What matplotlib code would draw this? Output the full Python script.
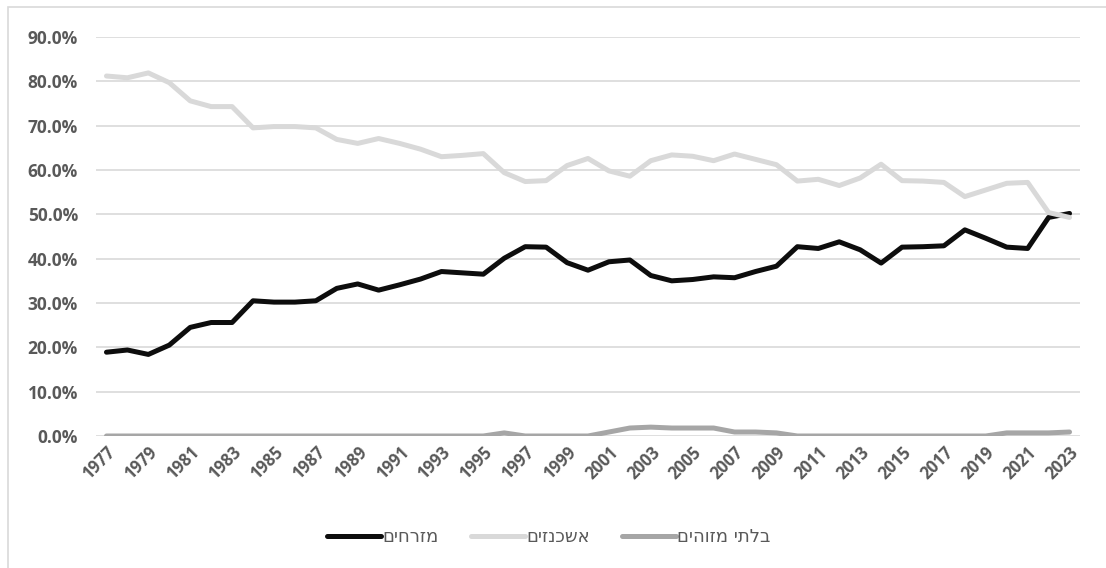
#!/usr/bin/env python3
"""
Share of Mizrahim / Ashkenazim / unidentified, 1977-2023
"""

import numpy as np
import matplotlib
matplotlib.use('Agg')
import matplotlib.pyplot as plt
from matplotlib.patches import Rectangle

years = list(range(1977, 2024))

mizrahim = [18.9, 19.4, 18.4, 20.5, 24.5, 25.6, 25.6, 30.5, 30.2, 30.2,
            30.5, 33.3, 34.3, 32.9, 34.1, 35.4, 37.1, 36.8, 36.5, 40.1,
            42.7, 42.6, 39.1, 37.4, 39.3, 39.7, 36.2, 35.0, 35.3, 35.9,
            35.7, 37.1, 38.3, 42.7, 42.3, 43.8, 42.0, 39.0, 42.6, 42.7,
            42.9, 46.5, 44.6, 42.6, 42.3, 49.3, 50.2]

ashkenazim = [81.2, 80.8, 81.9, 79.7, 75.6, 74.3, 74.3, 69.5, 69.8, 69.8,
              69.5, 66.9, 66.0, 67.1, 66.0, 64.7, 63.0, 63.3, 63.7, 59.4,
              57.4, 57.6, 61.0, 62.6, 59.8, 58.6, 62.1, 63.4, 63.1, 62.1,
              63.6, 62.4, 61.2, 57.5, 57.9, 56.5, 58.2, 61.3, 57.6, 57.5,
              57.2, 54.0, 55.5, 57.0, 57.2, 50.4, 49.3]

unidentified = [0, 0, 0, 0, 0, 0, 0, 0, 0, 0,
                0, 0, 0, 0, 0, 0, 0, 0, 0, 0.7,
                0, 0, 0, 0, 0.9, 1.8, 2.0, 1.8, 1.8, 1.8,
                0.9, 0.9, 0.7, 0, 0, 0, 0, 0, 0, 0,
                0, 0, 0, 0.7, 0.7, 0.7, 0.9]

labels = ['מזרחים', 'אשכנזים', 'בלתי מזוהים']
colors = ['#0d0d0d', '#d9d9d9', '#a6a6a6']


def rtl(s):
    # matplotlib has no bidi support, flip the Hebrew by hand
    return s[::-1]


fig = plt.figure(figsize=(11.06, 5.68), dpi=100)
W, H = 1106, 568
ax = fig.add_axes([96 / W, 1 - 436 / H, (1080 - 96) / W, (436 - 37) / H])

# chart frame
fig.patches.append(Rectangle((8 / W, -0.01), 1.0, 1 - 7 / H + 0.01,
                             transform=fig.transFigure, fill=False,
                             edgecolor='#d9d9d9', linewidth=1.2))

x = np.arange(len(years))
for series, lab, col in zip([mizrahim, ashkenazim, unidentified], labels, colors):
    ax.plot(x, np.array(series) / 100, color=col, linewidth=3.6,
            solid_capstyle='round', solid_joinstyle='round', label=rtl(lab))

ax.set_xlim(-0.5, len(years) - 0.5)
ax.set_ylim(0, 0.9)
ax.set_yticks(np.arange(0, 0.91, 0.1))
ax.set_yticklabels([f'{v * 100:.1f}%' for v in np.arange(0, 0.91, 0.1)])
ax.set_xticks(x[::2])
ax.set_xticklabels([str(y) for y in years[::2]], rotation=45, ha='right',
                   rotation_mode='anchor')

ax.grid(axis='y', color='#d9d9d9', linewidth=1.2)
ax.set_axisbelow(True)
for s in ax.spines.values():
    s.set_visible(False)
ax.tick_params(axis='both', length=0, labelcolor='#595959')
ax.tick_params(axis='y', pad=13)
ax.tick_params(axis='x', pad=5)
for t in ax.get_yticklabels():
    t.set_fontfamily('Open Sans')
    t.set_fontweight('bold')
    t.set_fontsize(12.5)
for t in ax.get_xticklabels():
    t.set_fontfamily('Open Sans')
    t.set_fontweight('bold')
    t.set_fontsize(12)

leg = fig.legend(loc='center', bbox_to_anchor=(549 / W, 1 - 537 / H), ncol=3,
                 frameon=False, handlelength=3.0, handletextpad=0.05,
                 columnspacing=1.8, prop={'size': 13})
for t in leg.get_texts():
    t.set_color('#595959')

plt.savefig('out.png', dpi=100)
plt.close()
